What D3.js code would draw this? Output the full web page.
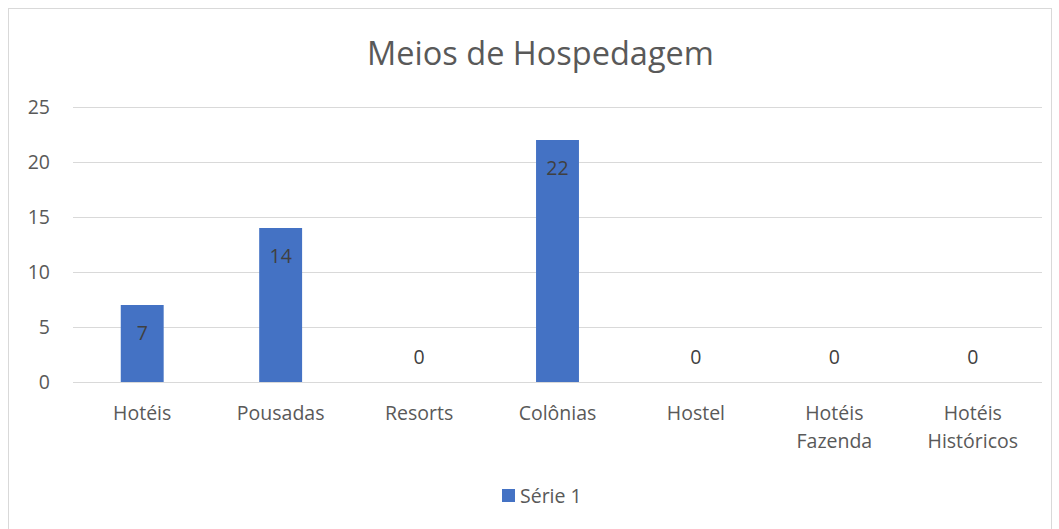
<!DOCTYPE html>
<html>
<head>
<meta charset="utf-8">
<script src="https://cdn.jsdelivr.net/npm/d3@7"></script>
<style>
  body { margin: 0; background: #fff; }
  svg { display: block; font-family: "Open Sans", "Noto Sans", sans-serif; }
</style>
</head>
<body>
<div id="chart"></div>
<script>
    var categories = ['Hotéis', 'Pousadas', 'Resorts', 'Colônias', 'Hostel', 'Hotéis Fazenda', 'Hotéis Históricos'];
    var values = [7, 14, 0, 22, 0, 0, 0];
    var yTicks = [0, 5, 10, 15, 20, 25];
    var seriesName = 'Série 1';

    var W = 1059, H = 529;
    var margin = { top: 107, right: 17, bottom: 147, left: 73 };
    var dim = { w: W - margin.left - margin.right, h: H - margin.top - margin.bottom };
    var textColor = '#595959';
    var barColor = '#4472C4';
    var fontSize = '19.5px';

    var svg = d3.select('#chart').append('svg')
        .attr('width', W)
        .attr('height', H);

    //chart border
    svg.append('rect')
        .attr('x', 8.5)
        .attr('y', 8.5)
        .attr('width', 1043)
        .attr('height', 530)
        .style('fill', 'none')
        .style('stroke', '#D9D9D9');

    //title
    svg.append('text')
        .attr('x', W / 2 + 11)
        .attr('y', 65)
        .attr('text-anchor', 'middle')
        .style('font-size', '32.5px')
        .style('fill', textColor)
        .text('Meios de Hospedagem');

    var g = svg.append('g')
        .attr('transform', 'translate(' + margin.left + ',' + margin.top + ')');

    var x = d3.scaleBand().domain(categories).range([0, dim.w]).padding(0);
    var y = d3.scaleLinear().domain([0, 25]).range([dim.h, 0]);
    var barW = x.bandwidth() * 0.31;

    //gridlines
    g.selectAll('.grid').data(yTicks).enter().append('line')
        .attr('x1', 0)
        .attr('x2', dim.w)
        .attr('y1', function (d) { return Math.round(y(d)) + 0.5; })
        .attr('y2', function (d) { return Math.round(y(d)) + 0.5; })
        .style('stroke', '#D9D9D9')
        .style('stroke-width', 1);

    //y tick labels
    g.selectAll('.ytick').data(yTicks).enter().append('text')
        .attr('x', -23)
        .attr('y', function (d) { return y(d); })
        .attr('dy', '0.35em')
        .attr('text-anchor', 'end')
        .style('font-size', fontSize)
        .style('fill', textColor)
        .text(function (d) { return d; });

    //bars
    g.selectAll('.bar').data(values).enter().append('rect')
        .attr('x', function (d, i) { return x(categories[i]) + x.bandwidth() / 2 - barW / 2; })
        .attr('y', function (d) { return y(d); })
        .attr('width', barW)
        .attr('height', function (d) { return dim.h - y(d); })
        .style('fill', barColor);

    //data labels
    g.selectAll('.lbl').data(values).enter().append('text')
        .attr('x', function (d, i) { return x(categories[i]) + x.bandwidth() / 2; })
        .attr('y', function (d) { return d === 0 ? y(d) - 25 : y(d) + 28; })
        .attr('dy', '0.35em')
        .attr('text-anchor', 'middle')
        .style('font-size', fontSize)
        .style('fill', '#404040')
        .text(function (d) { return d; });

    //x labels (wrapped on two lines)
    g.selectAll('.xlbl').data(categories).enter().append('text')
        .attr('x', function (d) { return x(d) + x.bandwidth() / 2; })
        .attr('y', dim.h + 31)
        .attr('text-anchor', 'middle')
        .style('font-size', fontSize)
        .style('fill', textColor)
        .each(function (d) {
            var words = d.split(' ');
            var t = d3.select(this);
            words.forEach(function (w, k) {
                t.append('tspan')
                    .attr('x', x(d) + x.bandwidth() / 2)
                    .attr('dy', k === 0 ? '0.35em' : 28)
                    .text(w);
            });
        });

    //legend
    var legend = svg.append('g').attr('transform', 'translate(502,489)');
    legend.append('rect')
        .attr('width', 13)
        .attr('height', 13)
        .style('fill', barColor);
    legend.append('text')
        .attr('x', 18)
        .attr('y', 7)
        .attr('dy', '0.35em')
        .style('font-size', fontSize)
        .style('fill', textColor)
        .text(seriesName);
</script>
</body>
</html>
